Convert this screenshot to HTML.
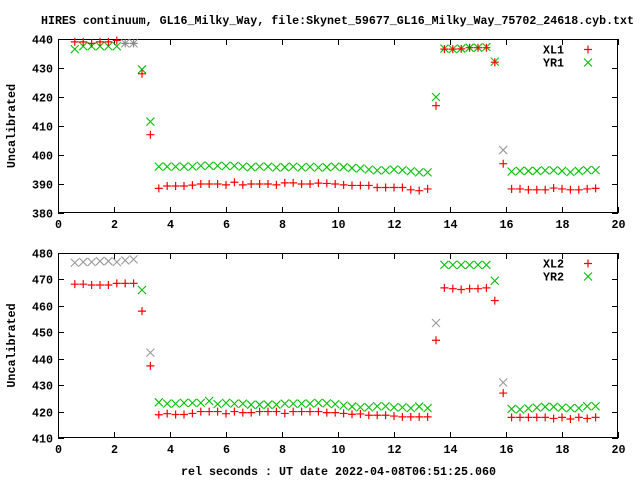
<!DOCTYPE html>
<html><head><meta charset="utf-8"><style>
html,body{margin:0;padding:0;background:#fff;}
svg{display:block;font-family:"Liberation Mono",monospace;font-weight:bold;font-size:11.7px;}
</style></head><body>
<svg id="chart" width="640" height="480" viewBox="0 0 640 480" xmlns="http://www.w3.org/2000/svg">
<text x="41" y="24" textLength="593" lengthAdjust="spacingAndGlyphs">HIRES continuum, GL16_Milky_Way, file:Skynet_59677_GL16_Milky_Way_75702_24618.cyb.txt</text>
<text x="181" y="475" textLength="315" lengthAdjust="spacingAndGlyphs">rel seconds : UT date 2022-04-08T06:51:25.060</text>
<g id="g1"></g>
<g id="g2"></g>
</svg>
<script>
const times=[0.6,0.9,1.2,1.5,1.8,2.1,2.4,2.7,3.0,3.3,3.6,3.9,4.2,4.5,4.8,5.1,5.4,5.7,6.0,6.3,6.6,6.9,7.2,7.5,7.8,8.1,8.4,8.7,9.0,9.3,9.6,9.9,10.2,10.5,10.8,11.1,11.4,11.7,12.0,12.3,12.6,12.9,13.2,13.5,13.8,14.1,14.4,14.7,15.0,15.3,15.6,15.9,16.2,16.5,16.8,17.1,17.4,17.7,18.0,18.3,18.6,18.9,19.2];
const xl1=[439,439,438.5,439,439,439.5,438.5,438.5,428,407,388.5,389.3,389.3,389.3,389.6,390,390,390,389.7,390.6,389.7,390,390,390,389.7,390.4,390.4,390,390,390.3,390.2,390,389.7,389.5,389.5,389.5,388.8,388.8,388.8,388.8,388,387.7,388.3,417,436.5,436.5,436.6,437,437,437,432,397,388.3,388.3,388,388,388,388.6,388.3,388,388,388.3,388.5];
const yr1=[436.5,437.5,437.5,437.5,437.5,437.5,438.5,438.5,429.5,411.5,396,396,396,396,396,396.3,396.3,396.3,396.2,396.3,396,395.8,396,396,395.7,395.8,396,395.7,395.9,395.7,395.8,396,395.8,395.5,395.4,395,394.7,394.7,395,394.8,394.4,394,394,420,436.7,436.5,436.7,437,437,437.2,432.2,401.7,394.3,394.5,394.5,394.5,394.7,394.7,394.5,394.1,394.5,394.8,394.8];
const xl2=[468.2,468.2,467.9,467.9,467.9,468.5,468.5,468.5,458,437.3,418.8,419.2,418.9,418.9,419.3,420,420,420,419.2,420,419.6,419.6,420,420,420,419.3,420,420,420,420,419.6,419.6,419.3,419,419.1,418.6,418.6,418.6,418.3,418,418,418,418,447,466.8,466.5,466.2,466.5,466.5,466.8,462,427,417.8,417.8,417.8,417.8,417.8,417.4,417.8,417.2,417.8,417.4,417.8];
const yr2=[476.3,476.6,476.6,476.9,476.9,476.6,477.2,477.6,466,442.3,423.5,423,423,423.3,423.3,423.3,424,422.8,423.3,423,423,422.6,422.6,422.6,422.6,423,423,423,423,423.3,423.1,422.8,422.3,421.9,421.6,421.6,422,422,421.6,421.6,421.3,421.9,421.3,453.5,475.5,475.5,475.5,475.5,475.5,475.5,469.5,431,421,420.8,421.2,421.5,421.8,421.8,421.5,421.3,421.3,422,422];
const grayTop=[6,7,51];
const grayBot=[0,1,2,3,4,5,6,7,9,43,51];
const xTicks=[0,2,4,6,8,10,12,14,16,18,20];
const yTicks1=[380,390,400,410,420,430,440];
const yTicks2=[410,420,430,440,450,460,470,480];
const NS="http://www.w3.org/2000/svg";
function mk(tag,attrs,parent){const e=document.createElementNS(NS,tag);for(const k in attrs)e.setAttribute(k,attrs[k]);parent.appendChild(e);return e;}
const L=58,R=618;
function xs(v){return L+(v-0)/(20-0)*(R-L);}
function panel(g,top,bot,ymin,ymax,yt,s1,s2,n1,n2,grayIdx,legY){
  const ys=v=>bot-(v-ymin)/(ymax-ymin)*(bot-top);
  const fr=mk('rect',{x:L+0.5,y:top+0.5,width:R-L-1,height:bot-top-1,fill:'none',stroke:'#000','stroke-width':1},g);
  
  
  xTicks.forEach(t=>{const x=Math.round(xs(t))+0.5;
    const a=mk('path',{d:`M${x} ${bot}v-6M${x} ${top}v6`,stroke:'#000'},g);
    
    
    const tx=mk('text',{x:x,y:bot+15,'text-anchor':'middle'},g);tx.textContent=t;
    
    });
  yt.forEach(t=>{const y=Math.round(ys(t))+0.5;
    const a=mk('path',{d:`M${L} ${y}h6M${R} ${y}h-6`,stroke:'#000'},g);
    
    
    const tx=mk('text',{x:L-5,y:y+4,'text-anchor':'end'},g);tx.textContent=t;
    
    });
  const yl=mk('text',{transform:`translate(15,${(top+bot)/2}) rotate(-90)`,'text-anchor':'middle'},g);yl.textContent='Uncalibrated';
  
  
  function plus(x,y,c){const p=mk('path',{d:`M${x-4} ${y}h8M${x} ${y-4}v8`,stroke:c,'stroke-width':1.2,fill:'none'},g);return p;}
  function cross(x,y,c){const p=mk('path',{d:`M${x-4} ${y-4}l8 8M${x-4} ${y+4}l8 -8`,stroke:c,'stroke-width':1.1,fill:'none'},g);return p;}
  times.forEach((t,i)=>{const p=cross(xs(t),ys(s2[i]),grayIdx.includes(i)?'#999':'#00c000');
    
    });
  times.forEach((t,i)=>{const p=plus(xs(t),ys(s1[i]),grayIdx.includes(i)&&i<8&&top<100?'#888':'#ff0000');
    
    });
  const l1=mk('text',{x:564,y:legY+4,'text-anchor':'end'},g);l1.textContent=n1;
  
  
  const k1=plus(588,legY,'#ff0000');
  
  
  const l2=mk('text',{x:564,y:legY+17,'text-anchor':'end'},g);l2.textContent=n2;
  
  
  const k2=cross(588,legY+13,'#00c000');
  
  
}
panel(document.getElementById('g1'),39,213,380,440,yTicks1,xl1,yr1,'XL1','YR1',grayTop,49.5);
panel(document.getElementById('g2'),253,438,410,480,yTicks2,xl2,yr2,'XL2','YR2',grayBot,263.5);
</script>
</body></html>
